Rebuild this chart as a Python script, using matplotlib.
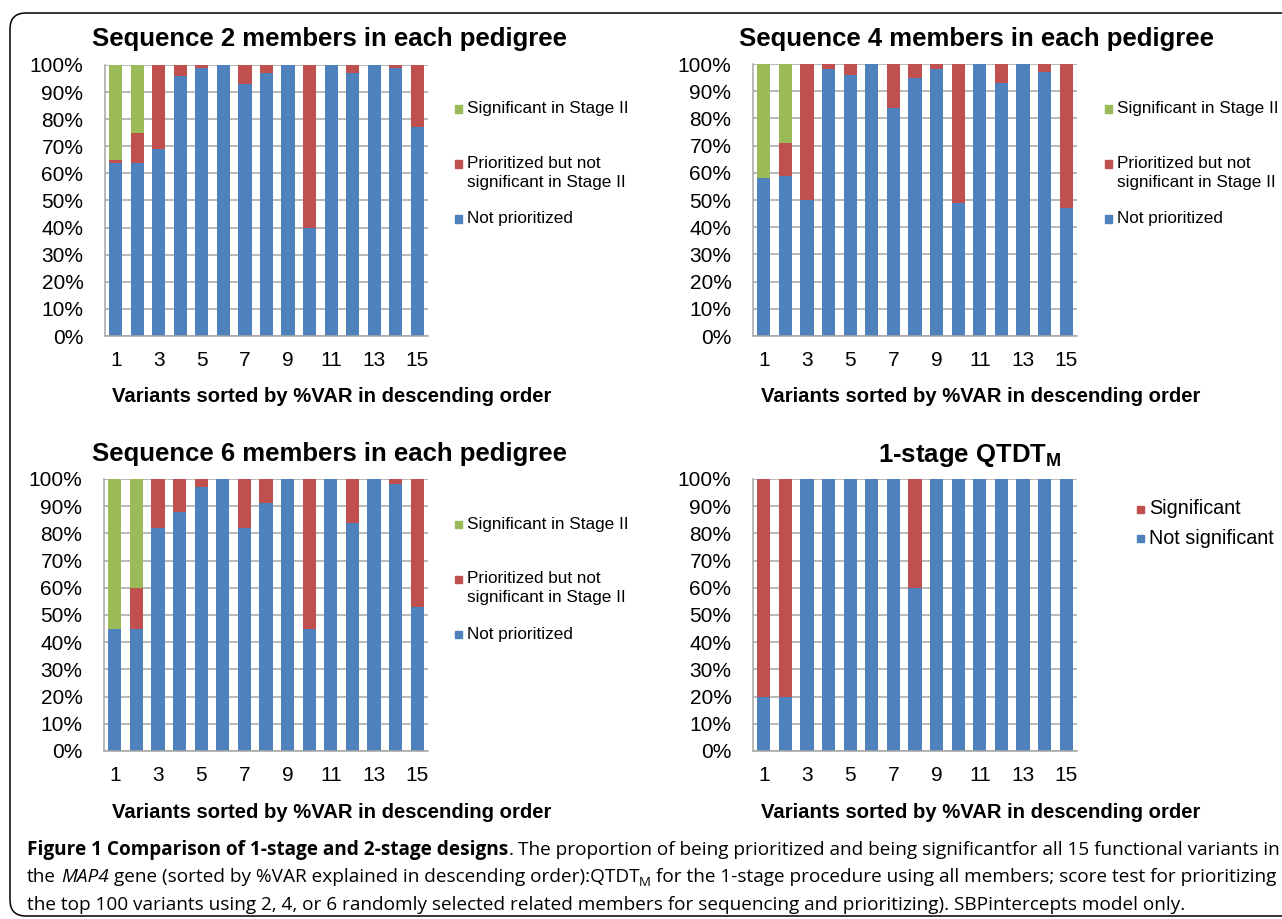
import matplotlib
matplotlib.use('Agg')
import matplotlib.pyplot as plt
from matplotlib.patches import Rectangle, FancyBboxPatch
from matplotlib.transforms import IdentityTransform
from matplotlib import font_manager as fm

# ---------------- data ----------------
variants = list(range(1, 16))
xtick_values = [1, 3, 5, 7, 9, 11, 13, 15]
ytick_values = list(range(0, 101, 10))
ytick_labels = [f"{v}%" for v in ytick_values]

seq2_not_prioritized = [64, 64, 69, 96, 99, 100, 93, 97, 100, 40, 100, 97, 100, 99, 77]
seq2_prioritized = [1, 11, 31, 4, 1, 0, 7, 3, 0, 60, 0, 3, 0, 1, 23]
seq2_significant = [35, 25, 0, 0, 0, 0, 0, 0, 0, 0, 0, 0, 0, 0, 0]

seq4_not_prioritized = [58, 59, 50, 98, 96, 100, 84, 95, 98, 49, 100, 93, 100, 97, 47]
seq4_prioritized = [0, 12, 50, 2, 4, 0, 16, 5, 2, 51, 0, 7, 0, 3, 53]
seq4_significant = [42, 29, 0, 0, 0, 0, 0, 0, 0, 0, 0, 0, 0, 0, 0]

seq6_not_prioritized = [45, 45, 82, 88, 97, 100, 82, 91, 100, 45, 100, 84, 100, 98, 53]
seq6_prioritized = [0, 15, 18, 12, 3, 0, 18, 9, 0, 55, 0, 16, 0, 2, 47]
seq6_significant = [55, 40, 0, 0, 0, 0, 0, 0, 0, 0, 0, 0, 0, 0, 0]

qtdt_not_significant = [20, 20, 100, 100, 100, 100, 100, 60, 100, 100, 100, 100, 100, 100, 100]
qtdt_significant = [80, 80, 0, 0, 0, 0, 0, 40, 0, 0, 0, 0, 0, 0, 0]

two_stage_labels = ["Significant in Stage II", "Prioritized but not\nsignificant in Stage II", "Not prioritized"]
one_stage_labels = ["Significant", "Not significant"]

titles = ["Sequence 2 members in each pedigree", "Sequence 4 members in each pedigree",
          "Sequence 6 members in each pedigree", r"1-stage QTDT$_{\mathbf{M}}$"]
xlabel = "Variants sorted by %VAR in descending order"

caption_lines = [
    [("Figure 1 Comparison of 1-stage and 2-stage designs", "bold", False, 0),
     (".", "reg", False, 0),
     ("The proportion of being prioritized and being significantfor all 15 functional variants in", "reg", True, 0)],
    [("the", "reg", False, 0),
     ("MAP4", "ital", True, 0),
     ("gene (sorted by %VAR explained in descending order):QTDT", "reg", True, 0),
     ("M", "sub", False, -4),
     ("for the 1-stage procedure using all members; score test for prioritizing", "reg", True, 0)],
    [("the top 100 variants using 2, 4, or 6 randomly selected related members for sequencing and prioritizing). SBPintercepts model only.", "reg", False, 0)],
]

# ---------------- style ----------------
BLUE = "#4F81BD"
RED = "#C0504D"
GREEN = "#9BBB59"
GRID = "#A6A6A6"
W, H = 1282, 919

names = {f.name for f in fm.fontManager.ttflist}
SANS = "Liberation Sans"
CAP = "Open Sans" if "Open Sans" in names else "Liberation Sans"

plt.rcParams['font.family'] = [SANS, 'DejaVu Sans']
plt.rcParams['mathtext.fontset'] = 'custom'
plt.rcParams['mathtext.rm'] = SANS
plt.rcParams['mathtext.bf'] = SANS + ':bold'

fig = plt.figure(figsize=(W / 100, H / 100), dpi=100)
fig.patch.set_facecolor('white')

def fx(px):
    return px / W

def fy(py):
    return 1 - py / H

# axes boxes (left, top, right, bottom) in pixels
boxes = [(105, 65, 428, 336), (753, 64, 1077, 336), (104, 479, 428, 751), (753, 479, 1077, 751)]

def make_ax(box):
    l, t, r, b = box
    ax = fig.add_axes([fx(l), fy(b), fx(r - l), (b - t) / H])
    ax.set_xlim(0.5, 15.5)
    ax.set_ylim(0, 100)
    ax.set_yticks(ytick_values)
    ax.set_yticklabels(ytick_labels, fontsize=15)
    ax.set_xticks(xtick_values)
    ax.set_xticklabels([str(v) for v in xtick_values], fontsize=15)
    ax.tick_params(axis='both', length=0)
    ax.tick_params(axis='y', pad=15.5)
    ax.tick_params(axis='x', pad=11)
    ax.yaxis.grid(True, color=GRID, linewidth=1.1)
    ax.set_axisbelow(True)
    for s in ['top', 'right']:
        ax.spines[s].set_visible(False)
    for s in ['left', 'bottom']:
        ax.spines[s].set_color(GRID)
        ax.spines[s].set_linewidth(1.1)
    return ax

BW = 0.61

def stacked3(ax, not_p, prio, sig):
    ax.bar(variants, not_p, BW, color=BLUE, zorder=2)
    ax.bar(variants, prio, BW, bottom=not_p, color=RED, zorder=2)
    bottoms = [a + b for a, b in zip(not_p, prio)]
    ax.bar(variants, sig, BW, bottom=bottoms, color=GREEN, zorder=2)

axes = [make_ax(b) for b in boxes]
stacked3(axes[0], seq2_not_prioritized, seq2_prioritized, seq2_significant)
stacked3(axes[1], seq4_not_prioritized, seq4_prioritized, seq4_significant)
stacked3(axes[2], seq6_not_prioritized, seq6_prioritized, seq6_significant)
axes[3].bar(variants, qtdt_not_significant, BW, color=BLUE, zorder=2)
axes[3].bar(variants, qtdt_significant, BW, bottom=qtdt_not_significant, color=RED, zorder=2)

# titles
title_pos = [(330, 46), (977, 46), (330, 461), (970, 462)]
for (x, y), t in zip(title_pos, titles):
    fig.text(fx(x), fy(y), t, ha='center', va='baseline', fontsize=18.5, fontweight='bold')

# x labels
xlabel_pos = [(332, 396), (981, 396), (332, 812), (981, 812)]
for x, y in xlabel_pos:
    fig.text(fx(x), fy(y), xlabel, ha='center', va='center', fontsize=14.6, fontweight='bold')

# legends (drawn manually to keep Excel layout)
SQ = 7

def square(xsq, ysq, color):
    fig.patches.append(Rectangle((fx(xsq - SQ / 2), fy(ysq + SQ / 2)), SQ / W, SQ / H,
                                 transform=fig.transFigure, color=color, figure=fig))

def legend_item(xsq, ytext, color, label, size=12.3):
    square(xsq, ytext, color)
    fig.text(fx(xsq + 9), fy(ytext), label, ha='left', va='center', fontsize=size)

for xsq, dy in [(458, 0), (1108, 0), (458, 415)]:
    legend_item(xsq, 109 + dy, GREEN, two_stage_labels[0])
    square(xsq, 164 + dy, RED)
    fig.text(fx(xsq + 9), fy(156 + dy), two_stage_labels[1], ha='left', va='top',
             fontsize=12.3, linespacing=1.3)
    legend_item(xsq, 219 + dy, BLUE, two_stage_labels[2])

legend_item(1140, 509, RED, one_stage_labels[0], size=14.2)
legend_item(1140, 538, BLUE, one_stage_labels[1], size=14.2)

# frame
fig.patches.append(FancyBboxPatch((10, 3), 1300, 903,
                                  boxstyle="round,pad=0,rounding_size=16",
                                  transform=IdentityTransform(), fill=False,
                                  edgecolor='black', linewidth=1.1, figure=fig))

# caption
renderer = fig.canvas.get_renderer()
STYLES = {"reg": {}, "bold": {'fontweight': 'bold'}, "ital": {'fontstyle': 'italic'}, "sub": {}}

def props_for(style, cs):
    p = dict(fontfamily=CAP, fontsize=cs)
    p.update(STYLES[style])
    if style == "sub":
        p['fontsize'] = cs * 0.7
    return p

def width_of(s, **kw):
    t = fig.text(0, 0, s, transform=IdentityTransform(), **kw)
    w = t.get_window_extent(renderer).width
    t.remove()
    return w

def line_width(parts, cs):
    total = 0
    for text, style, gap, dy in parts:
        p = props_for(style, cs)
        if gap:
            total += width_of("x x", **p) - width_of("xx", **p)
        total += width_of(text, **p)
    return total

# fit caption font so the first line spans the frame width like the original
base = 12.0
CS = base * 1250 / line_width(caption_lines[0], base)

def draw_runs(x, ybase_px, parts):
    ybase = H - ybase_px
    for text, style, gap, dy in parts:
        p = props_for(style, CS)
        if gap:
            x += width_of("x x", **p) - width_of("xx", **p)
        t = fig.text(x, ybase + dy, text, transform=IdentityTransform(), va='baseline', **p)
        x += t.get_window_extent(renderer).width

for i, parts in enumerate(caption_lines):
    draw_runs(27, 855 + 27.5 * i, parts)

fig.savefig("out.png", dpi=100, facecolor='white')
